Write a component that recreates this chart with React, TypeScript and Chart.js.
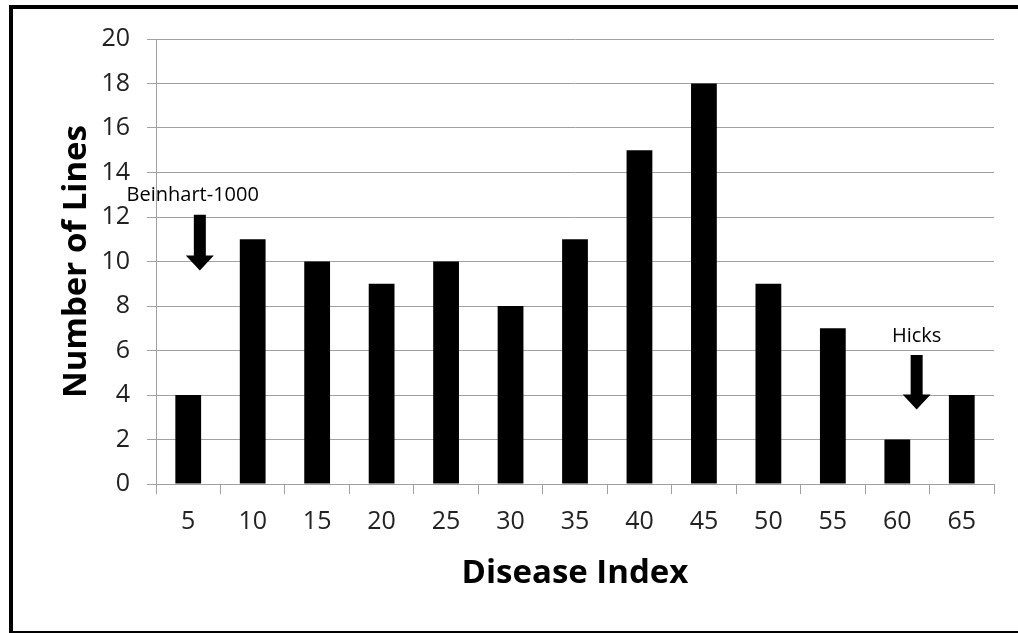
import { useEffect, useRef } from "react";
import { Chart, registerables } from "chart.js";

Chart.register(...registerables);

// Disease index categories and how many lines fall in each
const diseaseIndex = ["5", "10", "15", "20", "25", "30", "35", "40", "45", "50", "55", "60", "65"];
const lineCounts = [4, 11, 10, 9, 10, 8, 11, 15, 18, 9, 7, 2, 4];
const yMin = 0;
const yMax = 20;
const yStep = 2;

// Labelled arrows pointing at particular lines
const calloutLabels = ["Beinhart-1000", "Hicks"];
const calloutCategory = [0, 11];
const calloutTextValue = [13.0, 6.7];
const calloutArrowFrom = [12.1, 5.8];
const calloutArrowTo = [9.6, 3.35];

const FONT = "'Open Sans', 'DejaVu Sans', sans-serif";
const GRID = "#a0a0a0";

const calloutPlugin = {
  id: "callouts",
  afterDatasetsDraw(chart: any) {
    const { ctx, scales } = chart;
    const xs = scales.x;
    const ys = scales.y;
    const catW = xs.width / diseaseIndex.length;
    const shifts = [0.18, 0.3];
    const textShifts = [0.07, 0.3];
    ctx.save();
    ctx.fillStyle = "#000";
    ctx.font = `20px ${FONT}`;
    ctx.textAlign = "center";
    ctx.textBaseline = "middle";
    calloutLabels.forEach((label, i) => {
      const base = xs.getPixelForValue(calloutCategory[i]);
      ctx.fillText(label, base + textShifts[i] * catW, ys.getPixelForValue(calloutTextValue[i]) + 1);
      const ax = base + shifts[i] * catW;
      const yTop = ys.getPixelForValue(calloutArrowFrom[i]);
      const yTip = ys.getPixelForValue(calloutArrowTo[i]);
      const headLen = 15;
      const shaftHalf = 6;
      const headHalf = 14;
      ctx.beginPath();
      ctx.moveTo(ax - shaftHalf, yTop);
      ctx.lineTo(ax + shaftHalf, yTop);
      ctx.lineTo(ax + shaftHalf, yTip - headLen);
      ctx.lineTo(ax + headHalf, yTip - headLen);
      ctx.lineTo(ax, yTip);
      ctx.lineTo(ax - headHalf, yTip - headLen);
      ctx.lineTo(ax - shaftHalf, yTip - headLen);
      ctx.closePath();
      ctx.fill();
    });
    ctx.restore();
  },
};

const framePlugin = {
  id: "frame",
  afterDraw(chart: any) {
    const { ctx, width, height } = chart;
    ctx.save();
    ctx.fillStyle = "#000";
    ctx.fillRect(9, 5, width - 9, 4);
    ctx.fillRect(9, 5, 4, height - 5);
    ctx.fillRect(9, height - 2, width - 9, 2);
    ctx.restore();
  },
};

export default function App() {
  const canvasRef = useRef<HTMLCanvasElement | null>(null);

  useEffect(() => {
    document.body.style.margin = "0";
    const canvas = canvasRef.current;
    if (!canvas) return;
    Chart.defaults.font.family = FONT;
    const chart = new Chart(canvas, {
      type: "bar",
      data: {
        labels: diseaseIndex,
        datasets: [
          {
            data: lineCounts,
            backgroundColor: "#000",
            borderWidth: 0,
            barPercentage: 0.4,
            categoryPercentage: 1,
          },
        ],
      },
      options: {
        responsive: false,
        animation: false,
        layout: { padding: { left: 0, top: 39, right: 24, bottom: 0 } },
        plugins: { legend: { display: false }, tooltip: { enabled: false } },
        scales: {
          x: {
            offset: true,
            grid: {
              offset: true,
              drawOnChartArea: false,
              drawTicks: true,
              tickLength: 10,
              color: GRID,
            },
            border: { display: true, color: GRID },
            ticks: { color: "#222", font: { size: 25 }, padding: 13, maxRotation: 0 },
            title: {
              display: true,
              text: "Disease Index",
              color: "#000",
              font: { size: 33, weight: "bold" },
              padding: { top: 0, bottom: 40 },
            },
            afterFit(scale: any) {
              scale.height = 149;
            },
          },
          y: {
            min: yMin,
            max: yMax,
            ticks: { stepSize: yStep, color: "#222", font: { size: 25 }, padding: 17 },
            grid: { color: GRID, tickLength: 9, drawTicks: true },
            border: { display: true, color: GRID },
            title: {
              display: true,
              text: "Number of Lines",
              color: "#000",
              font: { size: 33, weight: "bold" },
              padding: { top: 57, bottom: 0 },
            },
            afterFit(scale: any) {
              scale.width = 156;
            },
          },
        },
      },
      plugins: [calloutPlugin, framePlugin],
    });
    return () => chart.destroy();
  }, []);

  return (
    <div style={{ position: "fixed", left: 0, top: 0, width: 1018, height: 633, background: "#fff" }}>
      <canvas ref={canvasRef} width={1018} height={633} />
    </div>
  );
}
